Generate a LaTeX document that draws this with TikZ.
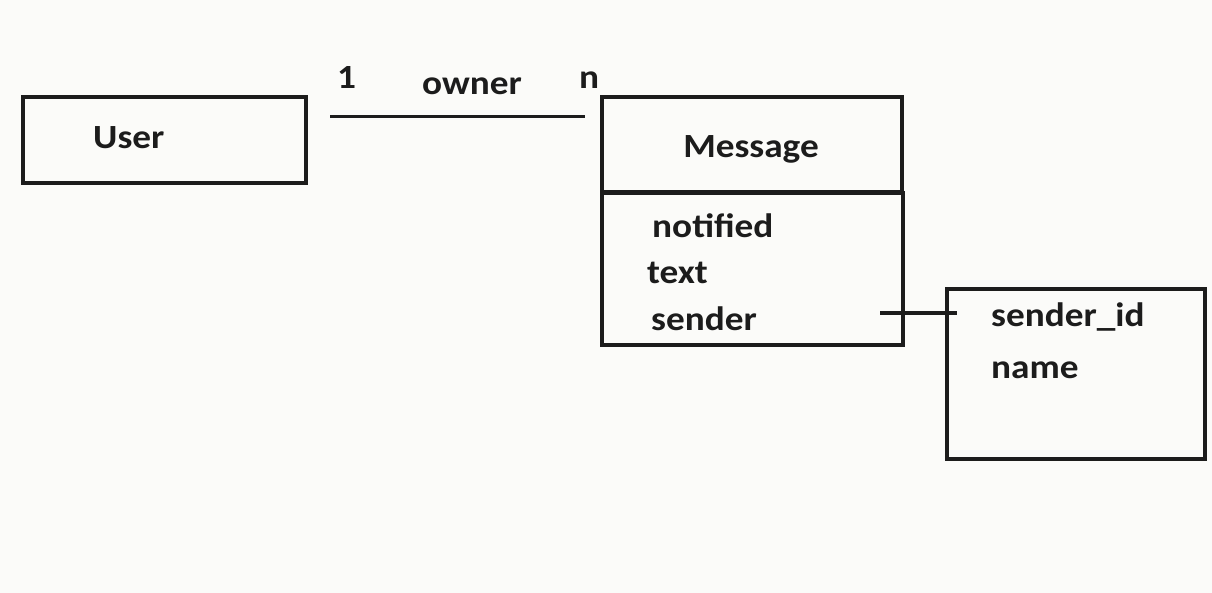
\documentclass[tikz,border=0pt]{standalone}
\usepackage{fontspec}
\setmainfont{Carlito}[FakeStretch=1.1]
\definecolor{ink}{HTML}{1C1C1C}
\definecolor{bg}{HTML}{FBFBF9}
\begin{document}
\begin{tikzpicture}[x=1bp,y=-1bp,
  box/.style={draw=ink,line width=3.5bp},
  lbl/.style={anchor=base west,inner sep=0pt,text=ink,font=\fontsize{34}{40}\selectfont\bfseries},
  conn/.style={draw=ink,line width=3bp}]
\fill[bg] (0,0) rectangle (1212,593);
\useasboundingbox (0,0) rectangle (1212,593);
% User
\draw[box] (23,97) rectangle (306,183);
\node[lbl] (user) at (93,149) {User};
\coordinate (userR) at (330,117);
\coordinate (msgL) at (585,117);
\draw[conn] (userR) -- (msgL);
\node[lbl] (one) at (337,89) {1};
\node[lbl] (owner) at (422,95) {owner};
\node[lbl] (nn) at (579,89) {n};
% Message
\draw[box] (602,97) rectangle (902,193);
\draw[box] (602,193) rectangle (903,345);
\draw[draw=ink,line width=5bp] (602,193) -- (903,193);
\node[lbl,anchor=base] (msg) at (751,158) {Message};
\node[lbl] (notified) at (652,238) {notified};
\node[lbl] (text) at (647,284) {text};
\node[lbl] (sender) at (651,331) {sender};
% Sender
\draw[box] (947,289) rectangle (1205,459);
\node[lbl] (sid) at (991,327) {sender\_id};
\node[lbl] (name) at (991,378) {name};
\coordinate (sa) at (880,313);
\coordinate (sb) at (957,313);
\draw[conn] (sa) -- (sb);
\end{tikzpicture}
\end{document}
